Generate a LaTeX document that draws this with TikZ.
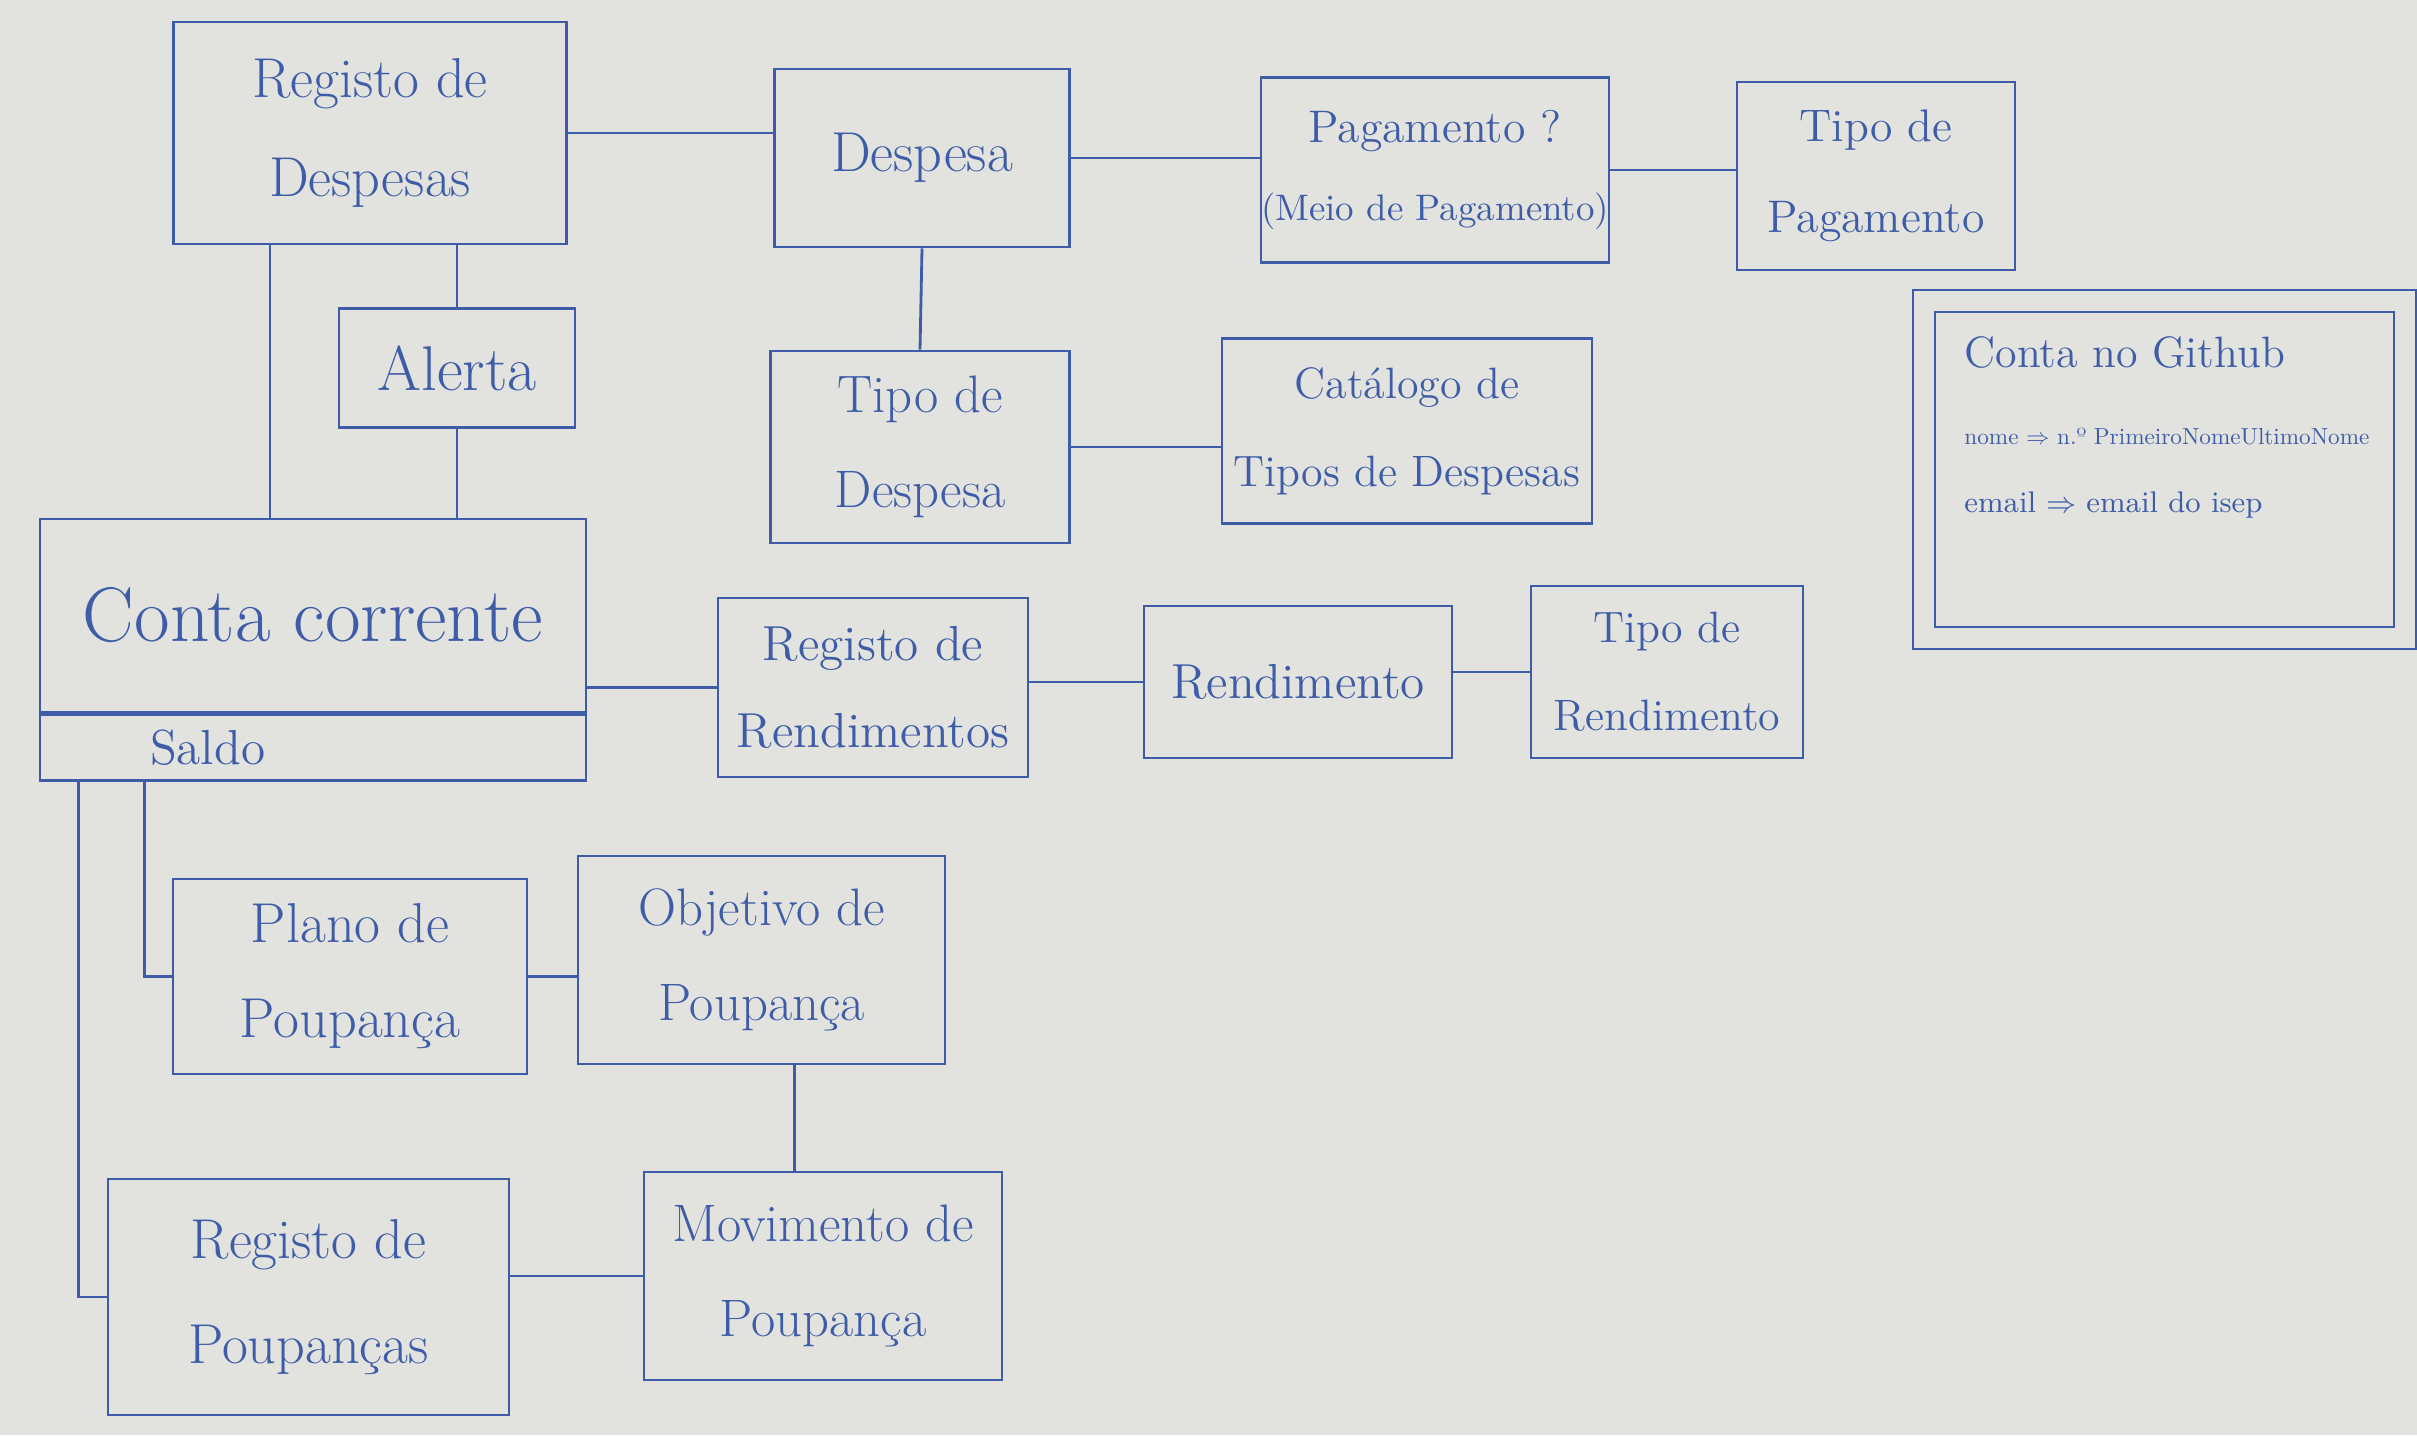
\documentclass[tikz,border=0pt]{standalone}
\usepackage{tikz}

\definecolor{ink}{RGB}{62,92,168}
\definecolor{board}{RGB}{226,227,223}

\begin{document}
\begin{tikzpicture}[
    box/.style={draw=ink, line width=0.8pt, text=ink, shape=rectangle,
    align=center, inner sep=0, font=\fontsize{14}{25}\selectfont},
    link/.style={draw=ink, line width=0.8pt}
]

    \useasboundingbox[fill=board] (0, 0) rectangle (24.17, -14.35);

    % Despesas
    \node[box, minimum width=3.93cm, minimum height=2.22cm,
    font=\fontsize{16}{28}\selectfont] (regdesp) at (3.70, -1.33) {Registo de\\Despesas};
    \node[box, minimum width=2.95cm, minimum height=1.78cm,
    font=\fontsize{16}{26}\selectfont] (despesa) at (9.22, -1.58) {Despesa};
    \node[box, minimum width=3.42cm, minimum height=1.85cm,
    font=\fontsize{10.5}{22}\selectfont] (pagamento) at (14.35, -1.70)
    {{\fontsize{13}{22}\selectfont Pagamento ?}\\(Meio de Pagamento)};
    \node[box, minimum width=2.78cm, minimum height=1.88cm,
    font=\fontsize{13}{26}\selectfont] (tipopag) at (18.76, -1.76) {Tipo de\\Pagamento};
    \node[box, minimum width=2.36cm, minimum height=1.19cm,
    font=\fontsize{18}{24}\selectfont] (alerta) at (4.57, -3.68) {Alerta};
    \node[box, minimum width=2.99cm, minimum height=1.92cm,
    font=\fontsize{15}{27}\selectfont] (tipodesp) at (9.20, -4.47) {Tipo de\\Despesa};
    \node[box, minimum width=3.70cm, minimum height=1.85cm,
    font=\fontsize{12.5}{25}\selectfont] (catalogo) at (14.07, -4.31)
    {Catálogo de\\Tipos de Despesas};

    % Conta no Github
    \node[box, double=board, double distance=0.2cm, line width=0.7pt,
    minimum width=4.81cm, minimum height=3.37cm] (github) at (21.645, -4.695) {};
    \node[text=ink, anchor=west, font=\fontsize{12.5}{15}\selectfont]
    (ghtitulo) at (19.52, -3.52) {Conta no Github};
    \node[text=ink, anchor=west, font=\fontsize{10}{12}\selectfont]
    (ghnome) at (19.52, -4.37)
    {\resizebox{4.05cm}{!}{nome $\Rightarrow$ n.º PrimeiroNomeUltimoNome}};
    \node[text=ink, anchor=west, font=\fontsize{8.5}{10}\selectfont]
    (ghemail) at (19.52, -5.05) {email $\Rightarrow$ email do isep};

    % Conta corrente
    \node[box, minimum width=5.46cm, minimum height=1.93cm,
    font=\fontsize{22}{28}\selectfont] (conta) at (3.13, -6.155) {Conta corrente};
    \node[box, anchor=north, minimum width=5.46cm, minimum height=0.66cm,
    text width=5.46cm, align=left] (saldo) at (conta.south)
    {\hspace*{1.1cm}Saldo};

    % Rendimentos
    \node[box, minimum width=3.10cm, minimum height=1.79cm]
    (regrend) at (8.73, -6.875) {Registo de\\Rendimentos};
    \node[box, minimum width=3.08cm, minimum height=1.52cm]
    (rendimento) at (12.98, -6.82) {Rendimento};
    \node[box, minimum width=2.72cm, minimum height=1.72cm,
    font=\fontsize{12.5}{25}\selectfont] (tiporend) at (16.67, -6.72) {Tipo de\\Rendimento};

    % Poupanca
    \node[box, minimum width=3.54cm, minimum height=1.95cm,
    font=\fontsize{16}{27}\selectfont] (plano) at (3.50, -9.765) {Plano de\\Poupança};
    \node[box, minimum width=3.67cm, minimum height=2.08cm,
    font=\fontsize{15}{27}\selectfont] (objetivo) at (7.615, -9.60) {Objetivo de\\Poupança};
    \node[box, minimum width=4.01cm, minimum height=2.36cm,
    font=\fontsize{16}{30}\selectfont] (regpoup) at (3.085, -12.97) {Registo de\\Poupanças};
    \node[box, minimum width=3.58cm, minimum height=2.08cm,
    font=\fontsize{15}{27}\selectfont] (movimento) at (8.23, -12.76) {Movimento de\\Poupança};

    % Lines
    \draw[link] (regdesp.east) -- (regdesp.east -| despesa.west);
    \draw[link] (despesa.east) -- (despesa.east -| pagamento.west);
    \draw[link] (pagamento.east) -- (pagamento.east -| tipopag.west);
    \draw[link] (despesa.south) -- (tipodesp.north);
    \draw[link] (tipodesp.east) -- (tipodesp.east -| catalogo.west);
    \draw[link] (alerta.north) -- (alerta.north |- regdesp.south);
    \draw[link] (alerta.south) -- (alerta.south |- conta.north);
    \draw[link] ([xshift=-1cm]regdesp.south) -- ([xshift=-1cm]regdesp.south |- conta.north);
    \draw[link] (regrend.west) -- (regrend.west -| conta.east);
    \draw[link] (rendimento.west -| regrend.east) -- (rendimento.west);
    \draw[link] (tiporend.west -| rendimento.east) -- (tiporend.west);
    \draw[link] ([xshift=1.06cm]saldo.south west) |- (plano.west);
    \draw[link] ([xshift=0.4cm]saldo.south west) |- (regpoup.west);
    \draw[link] (plano.east) -- (plano.east -| objetivo.west);
    \draw[link] ([xshift=0.33cm]objetivo.south) -- ([xshift=0.33cm]objetivo.south |- movimento.north);
    \draw[link] (movimento.west -| regpoup.east) -- (movimento.west);

\end{tikzpicture}
\end{document}
